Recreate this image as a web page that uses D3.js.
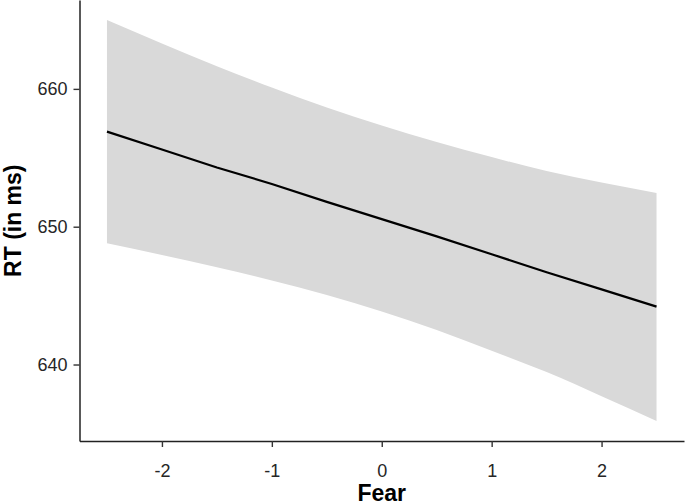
<!DOCTYPE html>
<html lang="en">

<head>
  <meta charset="UTF-8">
  <title>RT by Fear</title>
  <script src="https://d3js.org/d3.v7.min.js"></script>
  <style>
    body { margin: 0; background: #fff; }
    svg { display: block; font-family: "Liberation Sans", Arial, sans-serif; }
    .tick text { fill: #262626; font-size: 18px; }
    .axis-title { font-weight: bold; font-size: 23px; fill: #000; }
  </style>
</head>

<body>
  <svg width="685" height="502"></svg>

  <script>
    const width = 685, height = 502;
    const margin = { top: 0, right: 1, bottom: 61, left: 79.5 };

    // values
    const fear = [-2.5, -2, -1.5, -1, -0.5, 0, 0.5, 1, 1.5, 2, 2.5];
    const fitted = [656.9, 655.6, 654.3, 653.1, 651.8, 650.55, 649.3, 648.0, 646.7, 645.45, 644.2];
    const upper = [665.0, 663.3, 661.65, 660.1, 658.65, 657.35, 656.15, 655.05, 654.05, 653.2, 652.45];
    const lower = [648.8, 647.95, 647.05, 646.1, 645.05, 643.85, 642.5, 641.0, 639.45, 637.7, 635.9];
    const xTicks = [-2, -1, 0, 1, 2];
    const yTicks = [640, 650, 660];

    const rows = fear.map((f, i) => ({ fear: f, fit: fitted[i], hi: upper[i], lo: lower[i] }));

    const svg = d3.select("svg");

    const x = d3.scaleLinear().domain([-2.75, 2.75]).range([margin.left, width - margin.right]);
    const y = d3.scaleLinear().domain([634.45, 666.45]).range([height - margin.bottom, margin.top]);

    // confidence band
    svg.append("path")
      .datum(rows)
      .attr("fill", "#d9d9d9")
      .attr("d", d3.area().x(d => x(d.fear)).y0(d => y(d.lo)).y1(d => y(d.hi)).curve(d3.curveMonotoneX));

    // fitted line
    svg.append("path")
      .datum(rows)
      .attr("fill", "none")
      .attr("stroke", "#000")
      .attr("stroke-width", 2.2)
      .attr("d", d3.line().x(d => x(d.fear)).y(d => y(d.fit)));

    const xAxis = svg.append("g")
      .attr("transform", `translate(0,${height - margin.bottom})`)
      .call(d3.axisBottom(x).tickValues(xTicks).tickFormat(d => String(d))
        .tickSize(6).tickPadding(17).tickSizeOuter(0));

    const yAxis = svg.append("g")
      .attr("transform", `translate(${margin.left},0)`)
      .call(d3.axisLeft(y).tickValues(yTicks).tickFormat(d => String(d))
        .tickSize(6).tickPadding(6).tickSizeOuter(0));

    [xAxis, yAxis].forEach(g => {
      g.select(".domain").attr("stroke", "#222").attr("stroke-width", 1.5);
      g.selectAll(".tick line").attr("stroke", "#333").attr("stroke-width", 1.4);
      g.selectAll(".tick text").attr("font-size", null).attr("font-family", null);
    });

    svg.append("text")
      .attr("class", "axis-title")
      .attr("x", x(0))
      .attr("y", 501)
      .attr("text-anchor", "middle")
      .text("Fear");

    svg.append("text")
      .attr("class", "axis-title")
      .attr("transform", `translate(21,${y(650) - 6}) rotate(-90)`)
      .attr("text-anchor", "middle")
      .text("RT (in ms)");
  </script>
</body>

</html>
